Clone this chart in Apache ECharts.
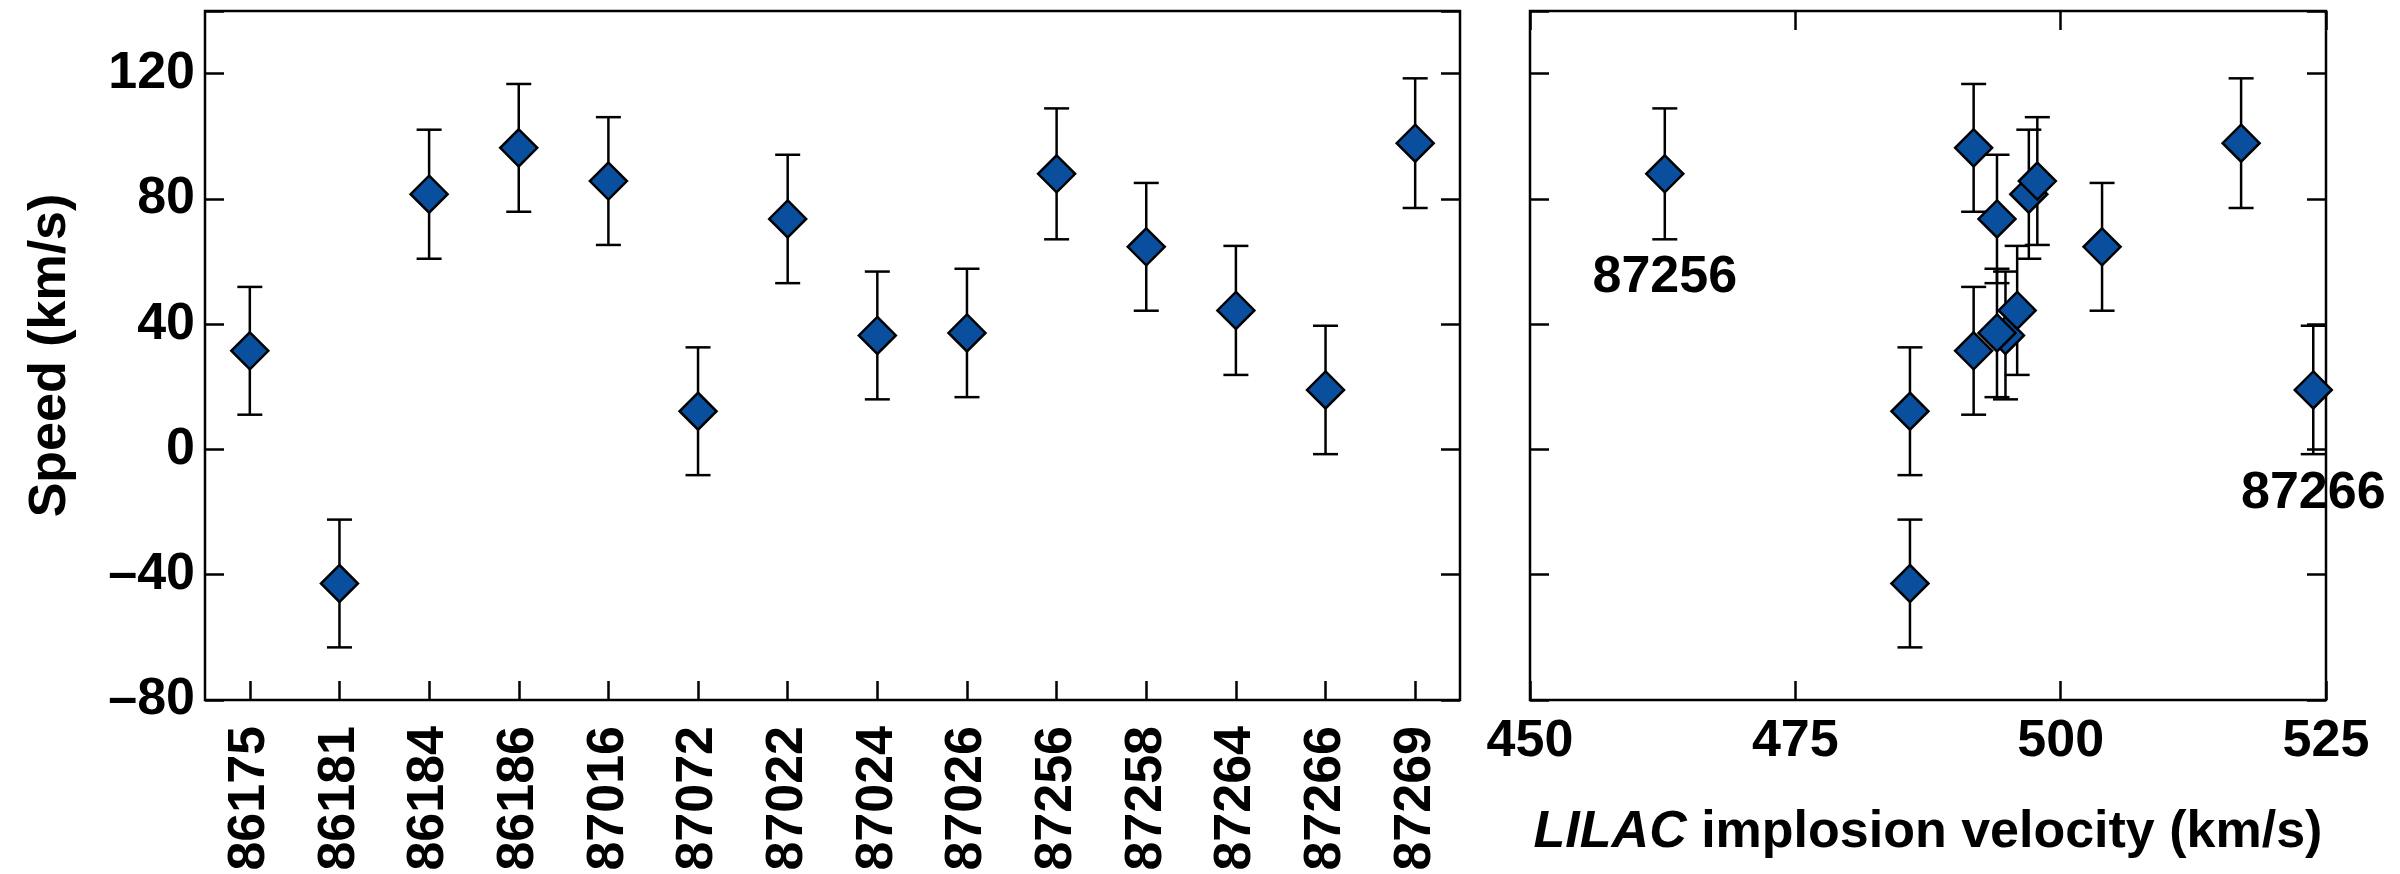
<!DOCTYPE html>
<html>
<head>
<meta charset="utf-8">
<script src="https://cdn.jsdelivr.net/npm/echarts@6/dist/echarts.min.js"></script>
<style>
  html, body { margin: 0; padding: 0; background: #fff; }
  #chart { width: 2400px; height: 874px; }
</style>
</head>
<body>
<div id="chart"></div>
<script>
// Shot numbers and the measured speed (km/s) with its one-sigma uncertainty
const shots = ['86175', '86181', '86184', '86186', '87016', '87072', '87022',
               '87024', '87026', '87256', '87258', '87264', '87266', '87269'];
const speed = [31.5, -42.8, 81.5, 96.3, 85.7, 12.2, 73.6,
               36.4, 37.2, 88.0, 64.7, 44.4, 19.0, 97.8];
const speedErr = [20.4, 20.4, 20.6, 20.4, 20.4, 20.4, 20.5,
                  20.4, 20.5, 20.9, 20.4, 20.6, 20.5, 20.7];
// LILAC-predicted implosion velocity for the same shots (km/s)
const implosionVelocity = [491.8, 485.8, 497.0, 491.8, 497.8, 485.8, 494.0,
                           494.8, 494.0, 462.7, 503.9, 495.9, 523.8, 517.0];

const speedTicks = [-80, -40, 0, 40, 80, 120];
const velocityTicks = [450, 475, 500, 525];
const labelledShots = ['87256', '87266'];

const FONT = "'Liberation Sans', Arial, Helvetica, sans-serif";
const INK = '#000';
const FILL = '#0a4f9e';
const LW = 2.5;

const textStyle = { fontFamily: FONT, fontSize: 52, fontWeight: 'bold', color: INK };

function signed(v) { return String(v).replace('-', '\u2013'); }

function errorBars(params, api) {
  const x = api.value(0);
  const lo = api.coord([x, api.value(1)]);
  const hi = api.coord([x, api.value(2)]);
  const half = 12.5;
  const style = { stroke: INK, lineWidth: LW, fill: null };
  return {
    type: 'group',
    children: [
      { type: 'line', shape: { x1: lo[0], y1: lo[1], x2: hi[0], y2: hi[1] }, style },
      { type: 'line', shape: { x1: lo[0] - half, y1: lo[1], x2: lo[0] + half, y2: lo[1] }, style },
      { type: 'line', shape: { x1: hi[0] - half, y1: hi[1], x2: hi[0] + half, y2: hi[1] }, style }
    ]
  };
}

const tick = { show: true, inside: true, length: 19, lineStyle: { color: INK, width: LW } };
// the frame comes from the grid border; axis lines stay hidden and pinned to the frame edge
const noLine = { show: false, onZero: false };
const noSplit = { show: false };

function speedAxis(gridIndex, position, withLabels) {
  return {
    type: 'value', gridIndex, position,
    min: -80, max: 140, interval: 40,
    axisLine: noLine, splitLine: noSplit,
    axisTick: tick,
    axisLabel: withLabels ? Object.assign({
      show: true, margin: 10,
      formatter: v => speedTicks.includes(v) ? signed(v) : ''
    }, textStyle) : { show: false }
  };
}

function velocityAxis(position, withLabels) {
  return {
    type: 'value', gridIndex: 1, position,
    min: 450, max: 525, interval: 25,
    axisLine: noLine, splitLine: noSplit,
    axisTick: tick,
    axisLabel: withLabels ? Object.assign({
      show: true, margin: 16,
      formatter: v => velocityTicks.includes(v) ? String(v) : ''
    }, textStyle) : { show: false }
  };
}

const byShot = shots.map((s, i) => [i, speed[i] - speedErr[i], speed[i] + speedErr[i]]);
const byVelocity = shots.map((s, i) => [implosionVelocity[i], speed[i] - speedErr[i], speed[i] + speedErr[i]]);

const velocityPoints = shots.map((s, i) => {
  const item = { name: s, value: [implosionVelocity[i], speed[i]] };
  if (labelledShots.includes(s)) {
    item.label = Object.assign({
      show: true, position: 'inside', offset: [0, 104],
      formatter: s
    }, textStyle);
  }
  return item;
});

const chart = echarts.init(document.getElementById('chart'), null, { renderer: 'canvas' });

chart.setOption({
  animation: false,
  backgroundColor: '#fff',
  grid: [
    { left: 205, top: 11, width: 1255, height: 689, show: true,
      borderColor: INK, borderWidth: LW, backgroundColor: 'transparent',
      containLabel: false, outerBoundsMode: 'none' },
    { left: 1530, top: 11, width: 796, height: 689, show: true,
      borderColor: INK, borderWidth: LW, backgroundColor: 'transparent',
      containLabel: false, outerBoundsMode: 'none' }
  ],
  xAxis: [
    {
      type: 'category', gridIndex: 0, position: 'bottom',
      data: shots, boundaryGap: true,
      axisLine: noLine, splitLine: noSplit,
      axisTick: Object.assign({ alignWithLabel: true, interval: 0 }, tick),
      axisLabel: Object.assign({ show: true, rotate: 90, margin: 26, interval: 0 }, textStyle)
    },
    Object.assign(velocityAxis('bottom', true), {
      name: '{i|LILAC} implosion velocity (km/s)',
      nameLocation: 'middle', nameGap: 107,
      nameTextStyle: Object.assign({
        rich: { i: Object.assign({ fontStyle: 'italic' }, textStyle) }
      }, textStyle)
    }),
    velocityAxis('top', false)
  ],
  yAxis: [
    Object.assign(speedAxis(0, 'left', true), {
      name: 'Speed (km/s)', nameLocation: 'middle', nameGap: 128,
      nameTextStyle: textStyle
    }),
    speedAxis(0, 'right', false),
    speedAxis(1, 'left', false),
    speedAxis(1, 'right', false)
  ],
  series: [
    {
      type: 'custom', xAxisIndex: 0, yAxisIndex: 0, z: 2,
      renderItem: errorBars, data: byShot,
      encode: { x: 0, y: [1, 2] }
    },
    {
      type: 'scatter', xAxisIndex: 0, yAxisIndex: 0, z: 3,
      symbol: 'diamond', symbolSize: 37,
      itemStyle: { color: FILL, borderColor: INK, borderWidth: 2.5, opacity: 1 },
      data: speed
    },
    {
      type: 'custom', xAxisIndex: 1, yAxisIndex: 2, z: 2,
      renderItem: errorBars, data: byVelocity,
      encode: { x: 0, y: [1, 2] }
    },
    {
      type: 'scatter', xAxisIndex: 1, yAxisIndex: 2, z: 3,
      symbol: 'diamond', symbolSize: 37,
      itemStyle: { color: FILL, borderColor: INK, borderWidth: 2.5, opacity: 1 },
      data: velocityPoints
    }
  ]
});
</script>
</body>
</html>
